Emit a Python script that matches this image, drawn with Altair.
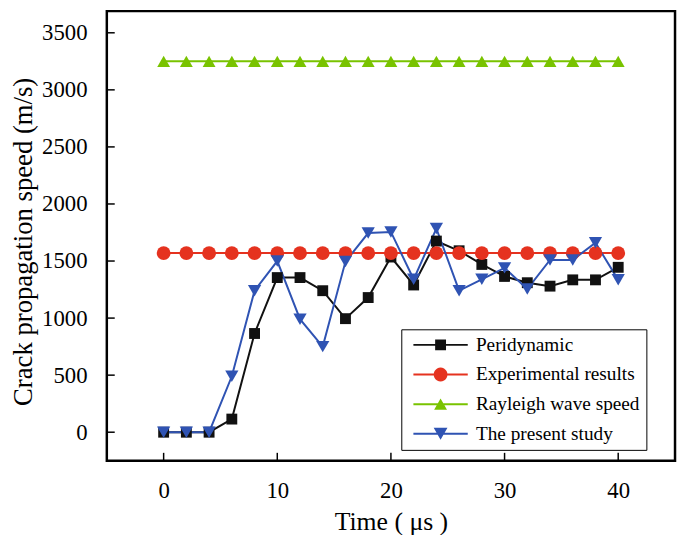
import math
import altair as alt
import pandas as pd

time = [0, 2, 4, 6, 8, 10, 12, 14, 16, 18, 20, 22, 24, 26, 28, 30, 32, 34, 36, 38, 40]
peridynamic = [0, 0, 0, 115, 865, 1355, 1355, 1240, 995, 1180, 1535, 1290, 1675, 1590, 1470, 1365, 1310, 1280, 1335, 1335, 1445]
experimental = [1570, 1570, 1570, 1570, 1570, 1570, 1570, 1570, 1570, 1570, 1570, 1570, 1570, 1570, 1570, 1570, 1570, 1570, 1570, 1570, 1570]
rayleigh = [3250, 3250, 3250, 3250, 3250, 3250, 3250, 3250, 3250, 3250, 3250, 3250, 3250, 3250, 3250, 3250, 3250, 3250, 3250, 3250, 3250]
present = [0, 0, 0, 490, 1240, 1500, 990, 750, 1495, 1745, 1755, 1340, 1785, 1240, 1340, 1440, 1255, 1510, 1510, 1660, 1335]

series_names = ["Peridynamic", "Experimental results", "Rayleigh wave speed", "The present study"]
series_colors = ["#111111", "#e5321f", "#79c300", "#2f53b3"]
point_shapes = ["square", "circle", "triangle-up", "triangle-down"]
point_sizes = [121, 196, 169, 180]
x_ticks = [0, 10, 20, 30, 40]
y_ticks = [0, 500, 1000, 1500, 2000, 2500, 3000, 3500]

# legend glyphs: a line segment with the marker on it (unit = sqrt(symbolSize)/2 px)
bar = "M-5,-0.18L5,-0.18L5,0.18L-5,0.18Z"
circ = "M" + "L".join(
    "%.3f,%.3f" % (1.27 * math.cos(k * math.pi / 12), 1.27 * math.sin(k * math.pi / 12)) for k in range(24)
) + "Z"
legend_paths = [
    bar + " M-1,-1L1,-1L1,1L-1,1Z",
    bar + " " + circ,
    bar + " M0,-1.02L1.18,1.02L-1.18,1.02Z",
    bar + " M0,1.1L-1.27,-1.1L1.27,-1.1Z",
]

values = [peridynamic, experimental, rayleigh, present]
rows = []
for name, vals in zip(series_names, values):
    for t, v in zip(time, vals):
        rows.append({"time": t, "speed": v, "series": name})
df = pd.DataFrame(rows)

FONT = "Liberation Serif"
W, H = 575, 455

xscale = alt.Scale(domain=[-5, 45], nice=False, zero=False)
yscale = alt.Scale(domain=[-250, 3690], nice=False, zero=False)

x_axis = alt.Axis(values=x_ticks, format="d", ticks=False, tickSize=0, domain=False, grid=False,
                  labelFont=FONT, labelFontSize=23, labelColor="black",
                  labelBaseline="alphabetic", labelPadding=37,
                  title="Time ( μs )", titleFont=FONT, titleFontSize=26,
                  titleFontWeight="normal", titleColor="black",
                  titleBaseline="alphabetic", titleY=70)
y_axis = alt.Axis(values=y_ticks, format="d", ticks=False, tickSize=0, domain=False, grid=False,
                  labelFont=FONT, labelFontSize=23, labelColor="black", labelPadding=20,
                  title="Crack propagation speed (m/s)", titleFont=FONT, titleFontSize=27,
                  titleFontWeight="normal", titleColor="black",
                  titleBaseline="alphabetic", titleX=-76, titleY=233)

X = alt.X("time:Q", scale=xscale, axis=x_axis)
Y = alt.Y("speed:Q", scale=yscale, axis=y_axis)

series_layers = []
for name, col in zip(series_names, series_colors):
    base = alt.Chart(df).transform_filter(alt.datum.series == name)
    series_layers.append(base.mark_line(strokeWidth=2, color=col).encode(x=X, y=Y, order="time:Q"))
for name, col, shp, sz in zip(series_names, series_colors, point_shapes, point_sizes):
    base = alt.Chart(df).transform_filter(alt.datum.series == name)
    series_layers.append(
        base.mark_point(filled=True, shape=shp, size=sz, color=col, opacity=1).encode(x=X, y=Y)
    )

leg = alt.Legend(title=None, orient="none", legendX=298, legendY=322,
                 strokeColor="black", fillColor="white", padding=6,
                 labelFont=FONT, labelFontSize=19.5, labelColor="black", labelLimit=400,
                 labelOffset=26, symbolOffset=24, symbolSize=121, symbolStrokeWidth=0,
                 symbolOpacity=1, rowPadding=9, labelExpr="datum.label + '    '")

legend_layer = alt.Chart(df).mark_point(filled=True, opacity=0).encode(
    x=X, y=Y,
    color=alt.Color("series:N", scale=alt.Scale(domain=series_names, range=series_colors), legend=leg),
    shape=alt.Shape("series:N", scale=alt.Scale(domain=series_names, range=legend_paths), legend=leg),
)

ytick_df = pd.DataFrame({"speed": y_ticks})
xtick_df = pd.DataFrame({"time": x_ticks})
yticks = alt.Chart(ytick_df).mark_rule(color="black", strokeWidth=1.5).encode(
    y=Y, x=alt.value(0), x2=alt.value(8))
xticks = alt.Chart(xtick_df).mark_rule(color="black", strokeWidth=1.5).encode(
    x=X, y=alt.value(H), y2=alt.value(H - 8))

chart = alt.layer(*series_layers, legend_layer, yticks, xticks).properties(
    width=W, height=H,
    autosize=alt.AutoSizeParams(type="none"),
    padding={"left": 100, "top": 0, "right": 2, "bottom": 72},
).configure_view(
    stroke="black", strokeWidth=2.5
).configure_axis(
    labelFont=FONT, labelFontSize=23, labelColor="black", titleFont=FONT
)

chart.save("out.html", embed_options={"renderer": "svg", "actions": False})
